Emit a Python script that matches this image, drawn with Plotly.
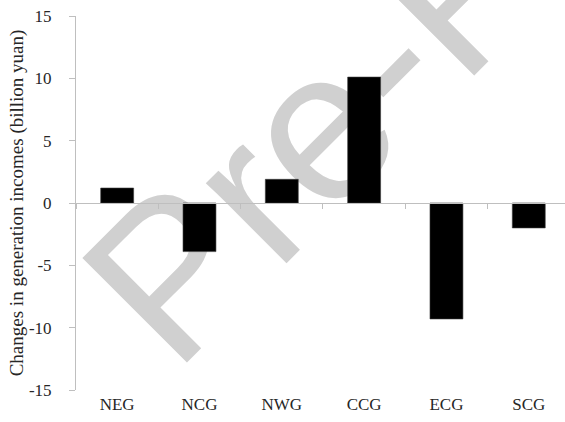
import plotly.graph_objects as go

# Regional grids and the change in their generation incomes
regions = ["NEG", "NCG", "NWG", "CCG", "ECG", "SCG"]
income_change = [1.2, -3.9, 1.9, 10.1, -9.3, -2.0]
y_ticks = [-15, -10, -5, 0, 5, 10, 15]
y_tick_text = [str(v) for v in y_ticks]

W, H = 565, 422
L, R, T, B = 76, 0, 16, 32
x_range = [-0.5, 5.44]

serif = "Liberation Serif"
axis_grey = "#bfbfbf"
text_col = "#262626"

fig = go.Figure()

# bars sit on an axis drawn through y = 0
fig.add_trace(go.Bar(
    x=regions, y=income_change, xaxis="x", yaxis="y",
    width=0.4,
    marker=dict(color="black", line=dict(color="#3a3a3a", width=0.6)),
    hoverinfo="skip",
))
# carrier for the category labels along the bottom
fig.add_trace(go.Scatter(
    x=regions, y=[0] * len(regions), xaxis="x2", yaxis="y",
    mode="markers", marker=dict(opacity=0), hoverinfo="skip", showlegend=False,
))

# watermark centre, in pixels from the top-left corner
cx_px, cy_px = 433, -17
plot_w = W - L - R
plot_h = H - T - B
px = (cx_px - L) / plot_w
py = (H - B - cy_px) / plot_h

fig.add_shape(
    type="rect", xref="paper", yref="paper",
    x0=px, x1=px, y0=py, y1=py,
    line=dict(width=0), fillcolor="rgba(0,0,0,0)",
    layer="below",
    label=dict(
        text="Pre-Proof", textangle=-45, textposition="middle center",
        font=dict(family="Liberation Sans", size=215, color="#d0d0d0"),
    ),
)

fig.update_layout(
    width=W, height=H,
    margin=dict(l=L, r=R, t=T, b=B, pad=0),
    plot_bgcolor="white", paper_bgcolor="white",
    showlegend=False,
    xaxis=dict(
        type="category", categoryorder="array", categoryarray=regions,
        range=x_range, anchor="free", position=0.5,
        showline=True, linecolor=axis_grey, linewidth=1,
        ticks="outside", tickson="boundaries", ticklen=5, tickcolor=axis_grey,
        showticklabels=False, showgrid=False, zeroline=False,
    ),
    xaxis2=dict(
        type="category", categoryorder="array", categoryarray=regions,
        range=x_range, overlaying="x", anchor="y", side="bottom",
        showline=False, ticks="", showgrid=False, zeroline=False,
        tickfont=dict(family=serif, size=17, color=text_col),
        ticklabelstandoff=2,
    ),
    yaxis=dict(
        range=[-15, 15], tickvals=y_ticks, ticktext=y_tick_text,
        showline=True, linecolor=axis_grey, linewidth=1,
        ticks="outside", ticklen=6, tickcolor=axis_grey,
        showgrid=False, zeroline=False,
        tickfont=dict(family=serif, size=17, color=text_col),
        ticklabelstandoff=14,
        title=dict(
            text="Changes in generation incomes (billion yuan)",
            font=dict(family=serif, size=19, color=text_col),
            standoff=0,
        ),
    ),
)

fig.write_html("out.html")
